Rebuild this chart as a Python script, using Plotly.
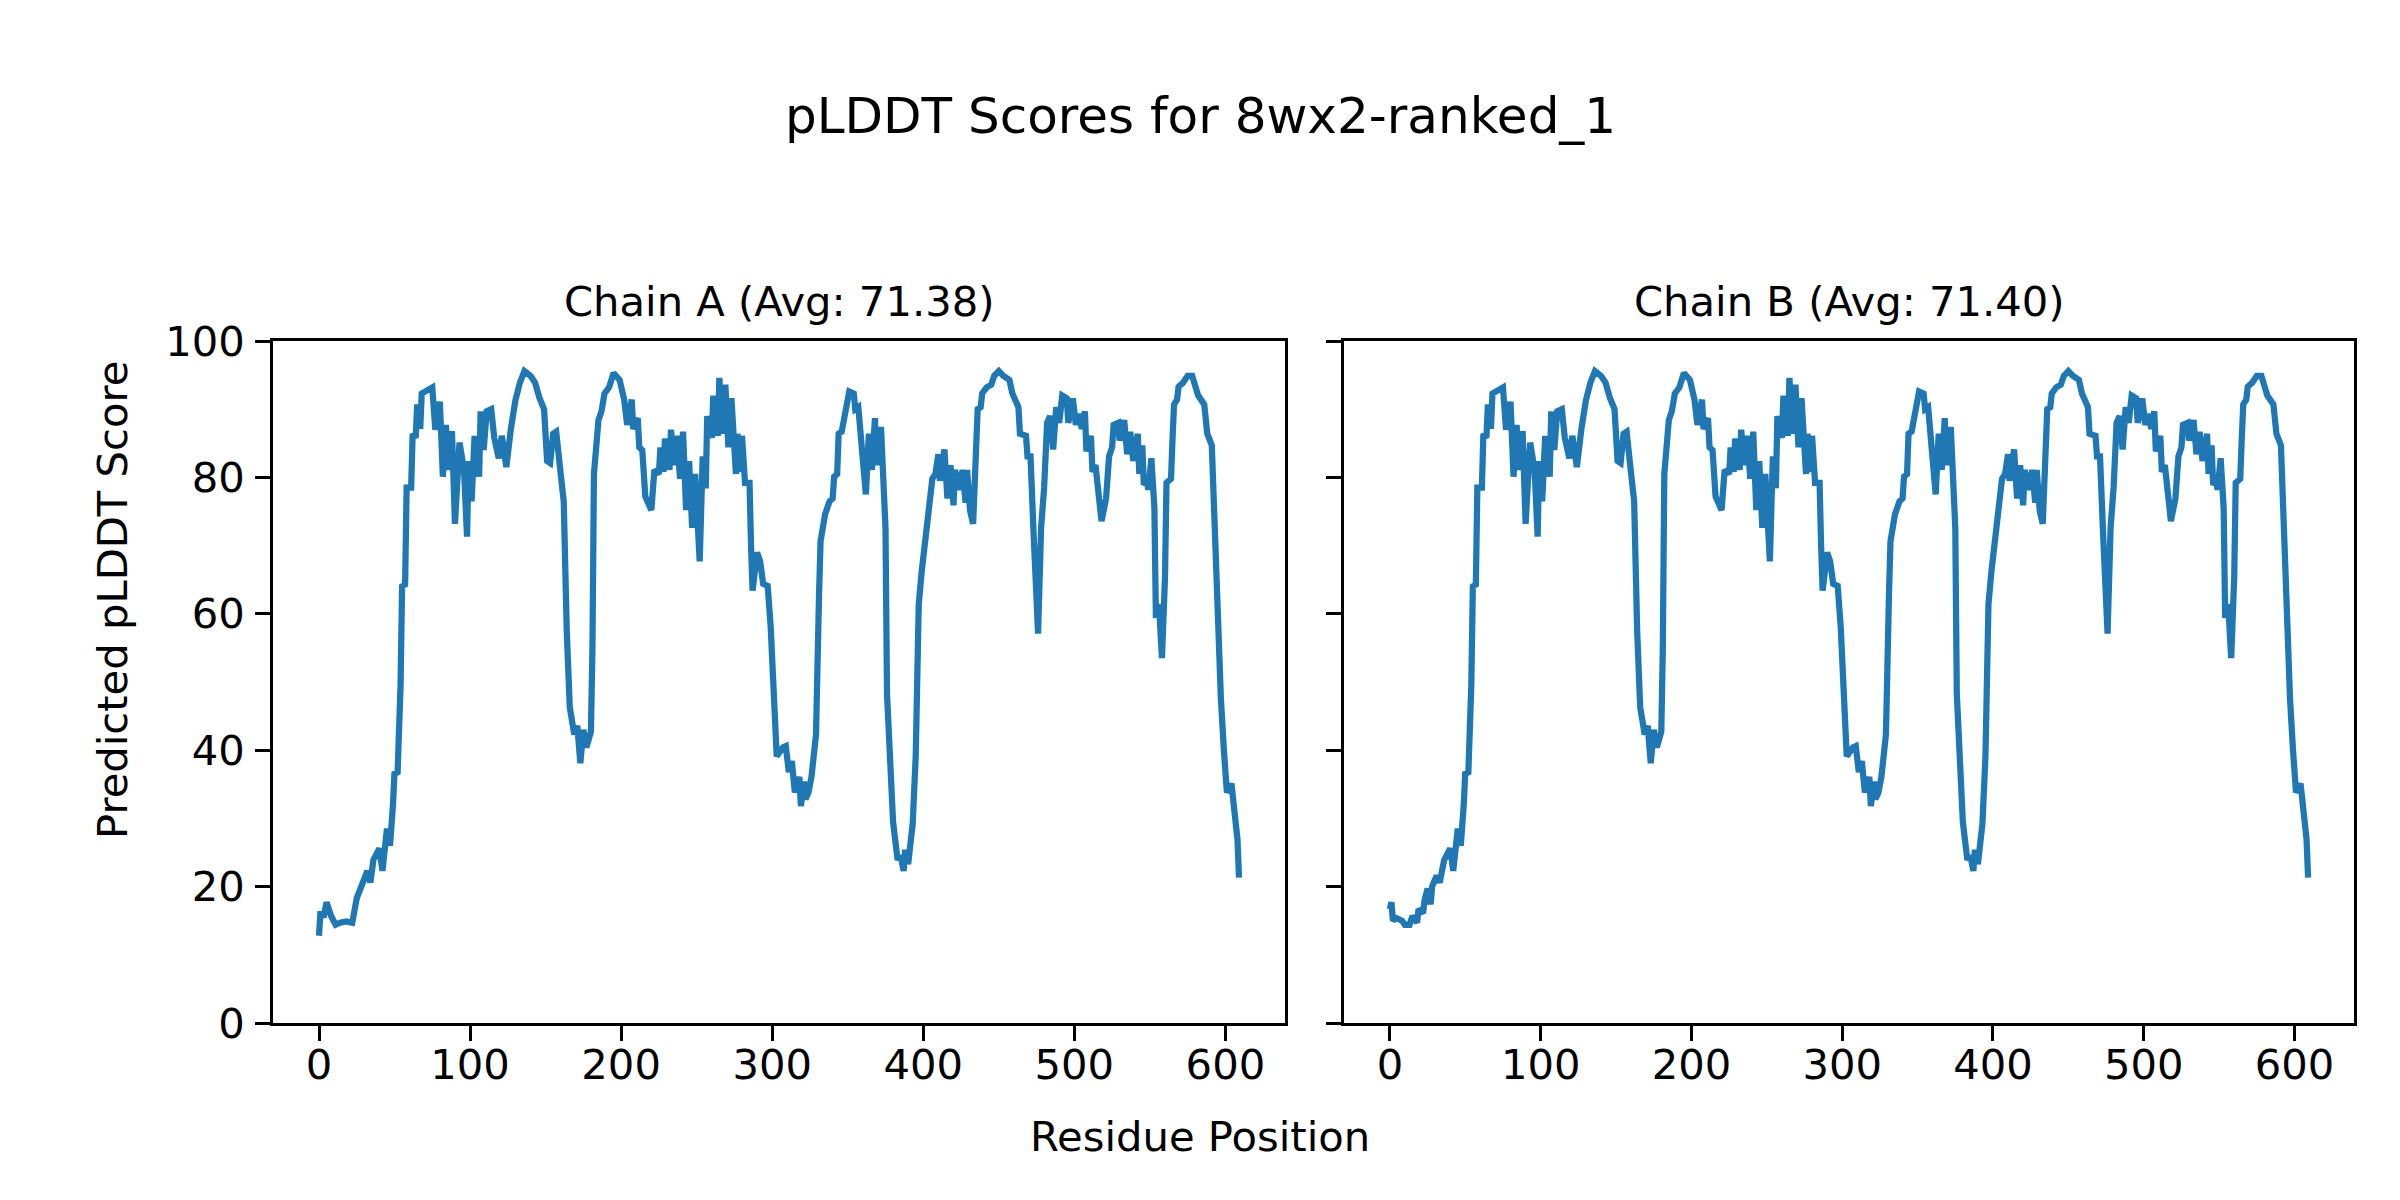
import plotly.graph_objects as go

# ---- data ----
chain_a_pos = [0, 1, 3, 5, 8, 11, 14, 18, 22, 24, 25, 29, 32, 34, 36, 40, 42, 45, 47, 49,
               50, 52, 54, 55, 57, 58, 61, 62, 64, 65, 67, 68, 72, 75, 77, 80, 82, 84, 86, 88,
               90, 93, 96, 98, 99, 101, 103, 106, 107, 109, 111, 114, 116, 119, 121, 124, 127, 130, 133, 136,
               140, 143, 146, 149, 151, 153, 155, 157, 160, 162, 164, 166, 169, 171, 173, 175, 177, 180, 181, 182,
               185, 187, 189, 192, 195, 199, 202, 204, 207, 208, 211, 212, 214, 216, 220, 222, 225, 226, 228, 229,
               232, 233, 235, 237, 239, 241, 243, 245, 247, 249, 252, 254, 256, 257, 260, 261, 264, 265, 267, 269,
               271, 273, 276, 277, 279, 280, 282, 285, 286, 287, 290, 292, 294, 297, 299, 301, 303, 307, 309, 311,
               313, 315, 318, 319, 321, 322, 324, 326, 329, 331, 332, 335, 338, 340, 341, 343, 344, 346, 349, 351,
               354, 355, 357, 360, 362, 364, 366, 368, 369, 372, 373, 375, 376, 378, 380, 383, 385, 387, 388, 390,
               393, 395, 397, 399, 401, 404, 406, 408, 410, 411, 414, 416, 418, 420, 421, 424, 426, 428, 429, 431,
               433, 435, 436, 438, 439, 442, 445, 447, 450, 453, 457, 459, 461, 463, 464, 468, 469, 471, 473, 476,
               478, 480, 482, 484, 486, 488, 490, 492, 495, 496, 499, 501, 503, 505, 507, 508, 511, 512, 514, 516,
               518, 521, 523, 525, 526, 529, 530, 533, 535, 537, 539, 542, 543, 545, 546, 548, 549, 551, 553, 554,
               556, 558, 560, 561, 564, 565, 566, 568, 569, 572, 575, 578, 580, 582, 586, 588, 591, 593, 595, 597,
               599, 601, 604, 607, 608, 609]
chain_a_score = [12.8, 16.4, 15.5, 17.7, 15.7, 14.4, 14.7, 14.9, 14.7, 16.8, 18.3, 20.6, 22.3, 20.6, 23.9, 25.6, 22.3, 28.5, 26.0, 32.1,
                 36.8, 36.5, 49.6, 64.0, 64.3, 78.5, 78.5, 86.4, 85.8, 90.7, 87.1, 92.3, 92.9, 93.2, 87.0, 91.1, 80.1, 87.7, 81.1, 86.8,
                 73.2, 85.1, 81.1, 71.3, 82.4, 76.5, 86.1, 80.1, 89.7, 84.0, 89.7, 90.0, 85.8, 82.8, 86.1, 81.5, 87.1, 91.3, 93.9, 95.6,
                 94.9, 93.9, 91.6, 90.0, 82.4, 82.1, 86.4, 86.7, 80.5, 76.5, 57.5, 46.3, 42.3, 43.6, 38.1, 43.0, 40.4, 42.7, 54.8, 80.5,
                 88.4, 89.7, 92.3, 93.2, 95.3, 94.3, 91.4, 87.7, 91.4, 87.1, 88.7, 84.4, 84.0, 77.2, 75.2, 81.1, 80.5, 84.4, 80.8, 85.7,
                 81.1, 87.0, 81.8, 86.1, 79.8, 86.7, 75.2, 82.4, 72.6, 80.5, 67.7, 83.1, 78.4, 89.0, 85.8, 92.0, 86.1, 94.6, 86.4, 93.6,
                 84.4, 91.6, 80.5, 86.4, 80.8, 86.1, 79.2, 79.2, 70.0, 63.4, 69.0, 67.7, 64.4, 64.1, 58.1, 48.3, 39.1, 40.4, 40.6, 36.8,
                 38.4, 33.8, 36.1, 31.8, 35.4, 32.8, 33.8, 36.1, 42.3, 62.7, 70.6, 74.6, 76.5, 76.9, 80.1, 80.5, 86.4, 86.7, 90.7, 92.6,
                 92.3, 90.0, 90.3, 81.8, 77.5, 86.4, 81.1, 88.7, 81.8, 87.4, 82.4, 72.6, 48.3, 36.4, 29.5, 23.9, 24.5, 22.3, 25.4, 23.3,
                 29.2, 39.1, 61.4, 66.3, 70.6, 76.9, 79.8, 80.5, 83.4, 79.5, 84.1, 76.9, 81.8, 75.9, 81.1, 78.2, 81.1, 76.3, 81.1, 75.1,
                 73.2, 84.4, 90.0, 90.3, 92.3, 93.2, 93.6, 94.9, 95.6, 94.9, 94.3, 92.3, 91.4, 90.3, 86.4, 86.1, 83.1, 83.1, 71.9, 57.1,
                 72.6, 78.5, 88.0, 89.0, 84.1, 90.3, 88.0, 92.0, 91.6, 88.0, 91.6, 87.7, 89.3, 87.1, 89.7, 83.8, 86.1, 80.8, 81.8, 77.2,
                 73.6, 76.9, 83.1, 84.4, 87.7, 88.0, 85.4, 88.4, 83.4, 86.7, 82.4, 86.4, 80.5, 84.7, 78.9, 79.5, 78.2, 82.8, 75.5, 59.4,
                 61.4, 53.5, 65.3, 79.2, 79.8, 85.7, 90.7, 91.4, 93.3, 93.9, 94.9, 94.9, 93.6, 92.0, 90.7, 86.4, 84.7, 70.6, 62.7, 47.6,
                 40.0, 33.8, 35.1, 27.6, 26.9, 21.3]

# Chain B differs from chain A only over its first residues
chain_b_head_pos = [0, 1, 2, 4, 8, 10, 13, 15, 18, 19, 22, 23, 25, 27, 28, 31, 33]
chain_b_head_score = [16.7, 17.7, 15.0, 15.4, 15.0, 14.4, 14.4, 15.7, 14.7, 16.7, 16.1, 18.0, 19.7, 17.4, 20.0, 21.6, 20.6]
chain_b_tail_start = 36

chain_b_pos = chain_b_head_pos + [p for p in chain_a_pos if p >= chain_b_tail_start]
chain_b_score = chain_b_head_score + [s for p, s in zip(chain_a_pos, chain_a_score) if p >= chain_b_tail_start]

chain_names = ["Chain A", "Chain B"]
chain_avgs = ["71.38", "71.40"]
x_ticks = [0, 100, 200, 300, 400, 500, 600]
y_ticks = [0, 20, 40, 60, 80, 100]

# ---- figure ----
W, H = 2400, 1200
OFF = 8            # page body margin offset
FONT = "DejaVu Sans"
FS = 41.7          # 10 pt at 300 dpi
LW = 3.33          # 0.8 pt
BLUE = "#1f77b4"


def px_x(x):
    return (x - OFF) / W


def px_y(y):
    return 1 - (y - OFF) / H


fig = go.Figure()
fig.add_trace(go.Scatter(x=chain_a_pos, y=chain_a_score, mode="lines",
                         line=dict(color=BLUE, width=6.25), xaxis="x", yaxis="y",
                         showlegend=False, hoverinfo="skip"))
fig.add_trace(go.Scatter(x=chain_b_pos, y=chain_b_score, mode="lines",
                         line=dict(color=BLUE, width=6.25), xaxis="x2", yaxis="y2",
                         showlegend=False, hoverinfo="skip"))

left_dom = [px_x(273), px_x(1285)]
right_dom = [px_x(1344), px_x(2354)]
y_dom = [px_y(1023), px_y(341)]

common_x = dict(range=[-30.45, 639.45], tickvals=x_ticks, ticks="outside", ticklen=14.6,
                tickwidth=LW, tickcolor="black", showline=True, linewidth=LW, linecolor="black",
                mirror=True, showgrid=False, zeroline=False, automargin=False,
                tickfont=dict(family=FONT, size=FS, color="black"), ticklabelstandoff=-12)
common_y = dict(range=[0, 100], tickvals=y_ticks, ticks="outside", ticklen=14.6,
                tickwidth=LW, tickcolor="black", showline=True, linewidth=LW, linecolor="black",
                mirror=True, showgrid=False, zeroline=False, automargin=False,
                tickfont=dict(family=FONT, size=FS, color="black"), ticklabelstandoff=2)

fig.update_layout(
    template="none",
    width=W, height=H, autosize=False,
    margin=dict(l=0, r=0, t=0, b=0, pad=0),
    paper_bgcolor="white", plot_bgcolor="white",
    font=dict(family=FONT, size=FS, color="black"),
    xaxis=dict(domain=left_dom, anchor="y", **common_x),
    yaxis=dict(domain=y_dom, anchor="x", **common_y),
    xaxis2=dict(domain=right_dom, anchor="y2", **common_x),
    yaxis2=dict(domain=y_dom, anchor="x2", showticklabels=False, **common_y),
)

annotations = [
    dict(text="pLDDT Scores for 8wx2-ranked_1", x=px_x(1200), y=px_y(116), xref="paper", yref="paper",
         xanchor="center", yanchor="middle", showarrow=False, font=dict(family=FONT, size=50, color="black")),
    dict(text=f"{chain_names[0]} (Avg: {chain_avgs[0]})", x=px_x((273 + 1285) / 2), y=px_y(301),
         xref="paper", yref="paper", xanchor="center", yanchor="middle", showarrow=False,
         font=dict(family=FONT, size=FS, color="black")),
    dict(text=f"{chain_names[1]} (Avg: {chain_avgs[1]})", x=px_x((1344 + 2354) / 2), y=px_y(301),
         xref="paper", yref="paper", xanchor="center", yanchor="middle", showarrow=False,
         font=dict(family=FONT, size=FS, color="black")),
    dict(text="Residue Position", x=px_x(1200), y=px_y(1136), xref="paper", yref="paper",
         xanchor="center", yanchor="middle", showarrow=False, font=dict(family=FONT, size=FS, color="black")),
    dict(text="Predicted pLDDT Score", x=px_x(112), y=px_y(600), xref="paper", yref="paper",
         xanchor="center", yanchor="middle", textangle=-90, showarrow=False,
         font=dict(family=FONT, size=FS, color="black")),
]
fig.update_layout(annotations=annotations)

fig.write_html("out.html")
